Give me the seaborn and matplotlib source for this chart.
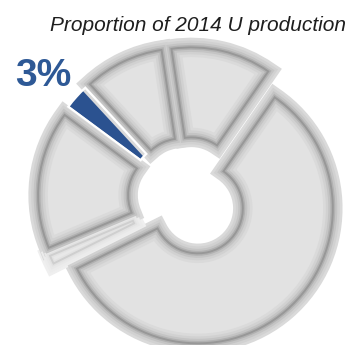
import matplotlib
matplotlib.use("Agg")
import matplotlib.pyplot as plt
import seaborn as sns

sns.set_theme(style="white")
plt.rcParams['font.family'] = ['Liberation Sans', 'DejaVu Sans']

# ---- data ----
categories = ["Top", "Largest", "Minor", "Left", "Highlighted", "Upper left"]
shares = [12, 58, 1, 16.5, 3, 9.5]
highlight_label = "3%"
title_text = "Proportion of 2014 U production"

# ---- styling ----
grey_face = "#e2e2e2"
blue_face = "#2b5290"
thin_face = "#f1f1f1"
faces = [grey_face, grey_face, thin_face, grey_face, blue_face, grey_face]
G = ["#dadada", "#d1d1d1", "#c4c4c4", "#b1b1b1", "#989898"]
T = ["#efefef", "#ececec", "#e8e8e8", "#e2e2e2", "#cfcfcf"]
widths = [14, 10, 6.5, 3.5, 1.4]
bevel_layers = [(lw, [G[i], G[i], T[i], G[i], "none", G[i]])
                for i, lw in enumerate(widths)]

W, H = 351, 345
fig = plt.figure(figsize=(W / 100, H / 100), dpi=100)
ax = fig.add_axes([0, 0, 1, 1])

center = (188, H - 197)
radius = 135
ring = 90
explode = [15] * len(shares)

def draw(face, edge_lw, edge_cols, clip):
    wedges, _ = ax.pie(shares, explode=explode, center=center, radius=radius,
                       startangle=98.5, counterclock=False,
                       colors=face if face is not None else ["none"] * len(shares),
                       wedgeprops=dict(width=ring, linewidth=edge_lw,
                                       edgecolor="none"))
    for w, ec in zip(wedges, edge_cols):
        if face is None:
            w.set_facecolor("none")
        w.set_edgecolor(ec)
        if clip:
            w.set_clip_path(w)
    return wedges

draw(faces, 0, ["none"] * len(shares), False)
for lw, cols in bevel_layers:
    draw(None, lw, cols, True)
# white rim around the highlighted slice
rim = ["none"] * len(shares)
rim[4] = "white"
draw(None, 1.6, rim, False)

ax.text(198, H - 31, title_text, ha="center", va="baseline",
        fontsize=15, style="italic", color="#1e1e1e")
ax.text(15, H - 86, highlight_label, ha="left", va="baseline",
        fontsize=28, fontweight="bold", color="#2e5996")

ax.set_xlim(0, W)
ax.set_ylim(0, H)
ax.set_aspect("equal")
ax.axis("off")
fig.savefig("out.png", dpi=100, facecolor="white")
